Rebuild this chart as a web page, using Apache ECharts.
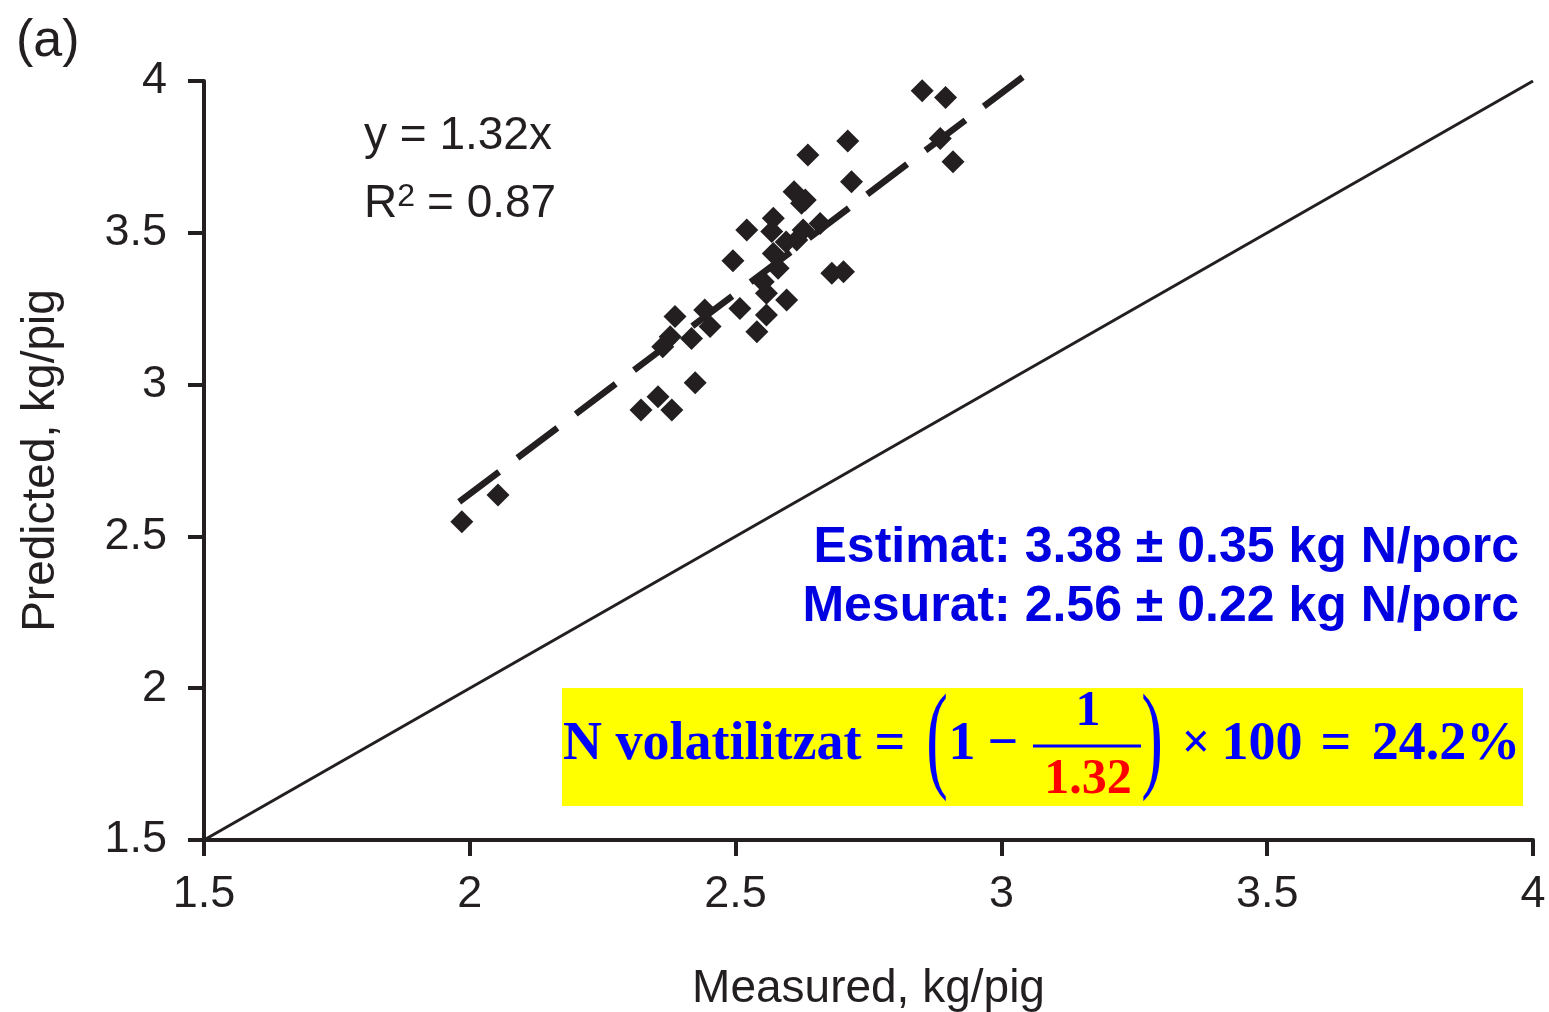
<!DOCTYPE html>
<html>
<head>
<meta charset="utf-8">
<title>Predicted vs measured N</title>
<script src="https://cdn.jsdelivr.net/npm/echarts@6/dist/echarts.min.js"></script>
<style>
  html, body { margin: 0; padding: 0; background: #fff; }
  #chart { width: 1549px; height: 1012px; }
</style>
</head>
<body>
<div id="chart"></div>
<script>
// measured vs predicted N, kg/pig
var measured = [
  1.985, 2.053, 2.322, 2.354, 2.380, 2.424, 2.386, 2.377, 2.363, 2.417,
  2.442, 2.452, 2.508, 2.495, 2.521, 2.540, 2.558, 2.596, 2.552, 2.558,
  2.580, 2.571, 2.568, 2.571, 2.615, 2.627, 2.659, 2.624, 2.681, 2.703,
  2.636, 2.711, 2.718, 2.610, 2.631, 2.851, 2.895, 2.885, 2.909, 2.595
];
var predicted = [
  2.548, 2.636, 2.916, 2.960, 2.916, 3.006, 3.224, 3.158, 3.125, 3.152,
  3.246, 3.191, 3.251, 3.408, 3.509, 3.174, 3.229, 3.279, 3.339, 3.301,
  3.383, 3.432, 3.504, 3.548, 3.476, 3.509, 3.531, 3.597, 3.367, 3.372,
  3.756, 3.802, 3.668, 3.635, 3.608, 3.968, 3.946, 3.811, 3.734, 3.470
];

var slope = 1.32;              // y = 1.32x
var fitRange = [1.98, 3.04];   // x extent of the dashed fit
var identityRange = [1.5, 4];  // 1:1 line
var axisMin = 1.5, axisMax = 4, axisStep = 0.5;

var eqText = 'y = 1.32x';
var r2Text = '{b|R}{s|2}{b|= 0.87}';
var estText = 'Estimat: 3.38 ± 0.35 kg N/porc';
var mesText = 'Mesurat: 2.56 ± 0.22 kg N/porc';

var INK = '#231f20';
var BLUE = '#0000e0';
var SANS = '"Liberation Sans", Arial, Helvetica, sans-serif';
var SERIF = '"Liberation Serif", "Times New Roman", serif';

var points = measured.map(function (m, i) { return [m, predicted[i]]; });
var fitLine = fitRange.map(function (x) { return [x, slope * x]; });
var oneToOne = identityRange.map(function (x) { return [x, x]; });

function axis(name, gap, labelMargin) {
  return {
    type: 'value',
    min: axisMin,
    max: axisMax,
    interval: axisStep,
    name: name,
    nameLocation: 'middle',
    nameGap: gap,
    nameTextStyle: { color: INK, fontSize: 46, fontFamily: SANS },
    axisLine: { show: true, lineStyle: { color: INK, width: 4 } },
    axisTick: { show: true, inside: false, length: 16, lineStyle: { color: INK, width: 4 } },
    axisLabel: { color: INK, fontSize: 45, fontFamily: SANS, margin: labelMargin },
    splitLine: { show: false }
  };
}

// formula pieces in the yellow box
function ftext(txt, x, y, size, color, opts) {
  var el = {
    type: 'text',
    x: x, y: y,
    z: 20,
    style: {
      x: 0, y: 0,
      text: txt,
      fill: color || '#0000ff',
      font: (opts && opts.normal ? '' : 'bold ') + size + 'px ' + SERIF,
      align: (opts && opts.align) || 'center',
      verticalAlign: 'middle'
    }
  };
  if (opts && opts.scaleX) el.scaleX = opts.scaleX;
  return el;
}

var chart = echarts.init(document.getElementById('chart'));

var option = {
  animation: false,
  backgroundColor: '#fff',
  grid: { left: 204, right: 16, top: 81, bottom: 172, containLabel: false, outerBoundsMode: 'none' },
  xAxis: axis('Measured, kg/pig', 126, 32),
  yAxis: axis('Predicted, kg/pig', 140, 37),
  series: [
    {
      type: 'line',
      data: oneToOne,
      symbol: 'none',
      lineStyle: { color: INK, width: 3 },
      z: 2
    },
    {
      type: 'line',
      data: fitLine,
      symbol: 'none',
      clip: false,
      lineStyle: { color: INK, width: 6.5, type: [50, 23], cap: 'butt' },
      z: 2
    },
    {
      type: 'scatter',
      data: points,
      symbol: 'diamond',
      symbolSize: 23,
      itemStyle: { color: INK, opacity: 1 },
      z: 3
    }
  ],
  graphic: [
    { type: 'text', left: 16, top: 16,
      style: { text: '(a)', fill: INK, font: '52px ' + SANS } },
    { type: 'text', left: 364, top: 113,
      style: { text: eqText, fill: INK, font: '46px ' + SANS } },
    { type: 'text', left: 364, top: 181,
      style: {
        text: r2Text,
        rich: {
          b: { fill: INK, fontSize: 46, fontFamily: SANS },
          s: { fill: INK, fontSize: 32, fontFamily: SANS, verticalAlign: 'top', padding: [0, 12, 14, 0] }
        }
      } },
    { type: 'text', x: 1519, y: 548,
      style: { text: estText, fill: BLUE, font: 'bold 50px ' + SANS, align: 'right', verticalAlign: 'middle' } },
    { type: 'text', x: 1519, y: 607,
      style: { text: mesText, fill: BLUE, font: 'bold 50px ' + SANS, align: 'right', verticalAlign: 'middle' } },
    { type: 'rect', shape: { x: 562, y: 688, width: 961, height: 118 },
      style: { fill: '#ffff00' }, z: 10 },
    ftext('N volatilitzat', 563, 745, 54, null, { align: 'left' }),
    ftext('=', 890, 745, 54),
    ftext('(', 937, 745, 118, null, { normal: true, scaleX: 0.55 }),
    ftext('1', 962, 745, 54),
    ftext('−', 1003, 745, 54),
    ftext('1', 1088, 712, 50),
    { type: 'line', z: 20, shape: { x1: 1033, y1: 746, x2: 1141, y2: 746 },
      style: { stroke: '#0000ff', lineWidth: 3 } },
    ftext('1.32', 1088, 780, 50, '#ff0000'),
    ftext(')', 1152, 745, 118, null, { normal: true, scaleX: 0.55 }),
    ftext('×', 1196, 745, 50),
    ftext('100', 1262, 745, 54),
    ftext('=', 1336, 745, 54),
    ftext('24.2%', 1446, 745, 54)
  ]
};

chart.setOption(option);
</script>
</body>
</html>
